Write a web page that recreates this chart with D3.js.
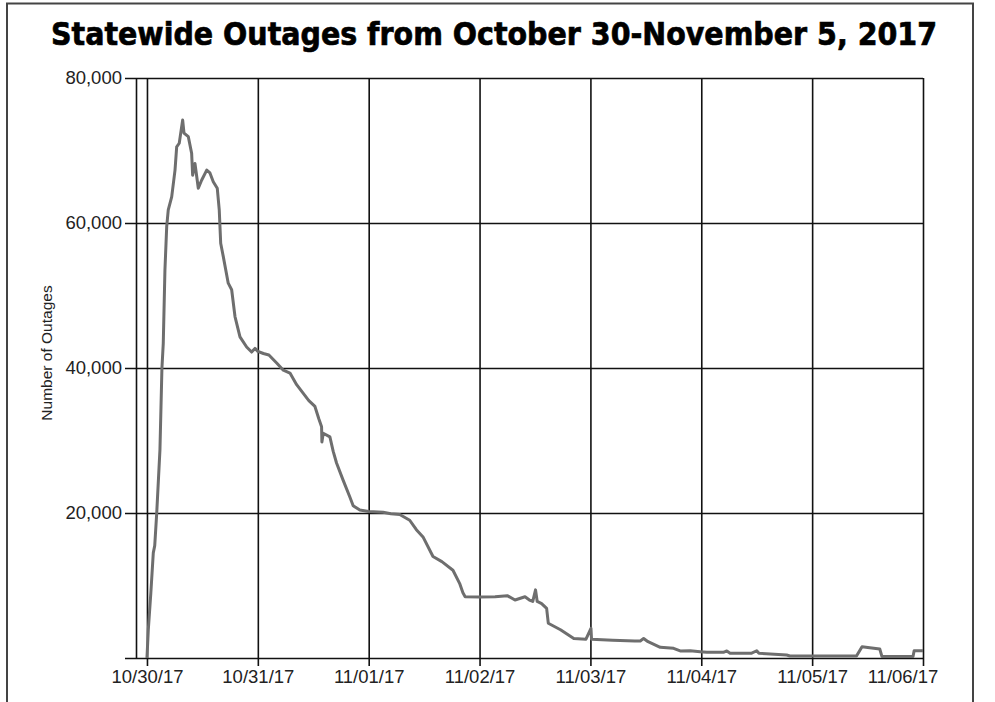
<!DOCTYPE html>
<html><head><meta charset="utf-8">
<script src="https://cdn.jsdelivr.net/npm/d3@7"></script>
<style>
body{margin:0;background:#fff;}
svg{display:block;}
</style></head>
<body><svg id="c" width="995" height="702"></svg>
<script>
const titleText = "Statewide Outages from October 30-November 5, 2017";
const yLabel = "Number of Outages";
const yTicks = [0, 20000, 40000, 60000, 80000];
// time in days after 10/30/17 00:00 (rows of 10, aligned with outages)
const dayOffsets = [
  0.000,0.012,0.035,0.057,0.070,0.088,0.117,0.135,0.147,0.162,
  0.178,0.192,0.223,0.253,0.268,0.291,0.322,0.334,0.373,0.403,
  0.412,0.433,0.463,0.493,0.539,0.568,0.598,0.634,0.652,0.665,
  0.688,0.733,0.764,0.794,0.839,0.899,0.944,0.974,
  1.000,1.050,1.100,1.170,1.230,1.290,1.350,1.410,1.460,1.515,
  1.550,1.575,1.578,1.590,1.650,1.680,1.710,1.770,1.830,1.860,
  1.920,2.000,2.130,2.200,2.280,2.370,2.430,2.490,2.580,2.660,
  2.760,2.820,2.850,2.870,3.000,3.140,3.250,3.320,3.410,3.450,
  3.480,3.505,3.520,3.560,3.605,3.620,3.730,3.850,3.960,4.005,
  4.010,4.200,4.400,4.450,4.480,4.520,4.630,4.750,4.810,4.900,
  4.990,5.050,5.200,5.230,5.260,5.450,5.500,5.520,5.770,5.800,
  6.400,6.450,6.520,6.610,6.630,6.910,6.920,7.000];
const outages = [
  0,3900,9000,14500,15500,20000,28700,40000,43400,53500,
  59500,61800,63600,67300,70500,71000,74200,72400,71900,69600,
  66600,68200,64800,65900,67300,66900,65700,64800,61800,57200,
  55400,51700,50800,47100,44300,42900,42200,42700,
  42300,42000,41800,40700,39700,39300,37700,36500,35500,34700,
  33000,31900,29800,31000,30500,28500,26900,24500,22200,21000,
  20400,20200,20100,19900,19800,19000,17700,16700,14000,13300,
  12100,10300,9000,8450,8400,8450,8600,8000,8450,8000,
  7800,9400,7800,7500,6850,4800,3900,2700,2600,4100,
  2600,2450,2350,2350,2700,2250,1470,1340,970,1000,
  870,790,790,970,650,650,1000,650,410,280,
  280,1560,1420,1240,200,200,1000,1000];

const svg = d3.select("#c");
const x0 = 136.5, x1 = 923, yTop = 78, yBot = 658;
const x = d3.scaleUtc()
  .domain([new Date(Date.UTC(2017,9,29,21,44)), new Date(Date.UTC(2017,10,6))])
  .range([x0, x1]);
const y = d3.scaleLinear().domain([0, 80000]).range([yBot, yTop]);
const base = Date.UTC(2017,9,30);
const n = Math.min(dayOffsets.length, outages.length);
const data = d3.range(n).map(i=>({t:new Date(base + dayOffsets[i]*86400000), v:outages[i]}));

// outer frame
svg.append("rect").attr("x",7).attr("y",3.5).attr("width",966).attr("height",720)
  .attr("fill","none").attr("stroke","#444").attr("stroke-width",2);

// title
svg.append("text").attr("transform","translate(494,45) scale(1,1.15)").attr("text-anchor","middle")
  .attr("font-family","'DejaVu Sans', 'Liberation Sans', Arial, sans-serif")
  .attr("font-weight",700).attr("font-size",27).attr("fill","#000")
  .attr("stroke","#000").attr("stroke-width",0.6)
  .attr("textLength",886).attr("lengthAdjust","spacingAndGlyphs")
  .text(titleText);

const dayTicks = d3.utcDay.range(new Date(Date.UTC(2017,9,30)), new Date(Date.UTC(2017,10,6,1)));
const fmt = d3.utcFormat("%m/%d/%y");

// vertical grid + x ticks
const gx = svg.append("g").attr("transform",`translate(0,${yBot})`)
  .call(d3.axisBottom(x).tickValues(dayTicks).tickFormat(fmt)
        .tickSizeInner(-(yBot-yTop)).tickSizeOuter(0).tickPadding(10));
gx.select(".domain").remove();
gx.selectAll(".tick line").attr("y2",8).attr("y1",-(yBot-yTop))
  .attr("stroke","#111").attr("stroke-width",1.6);
gx.selectAll(".tick text").attr("font-family","'Liberation Sans', Arial, sans-serif")
  .attr("font-size",18.5).attr("fill","#222").attr("y",12)
  .attr("dx",(d,i,nn)=> i===nn.length-1 ? -20.5 : 0);

// horizontal grid + y ticks
const gy = svg.append("g").attr("transform",`translate(${x0},0)`)
  .call(d3.axisLeft(y).tickValues(yTicks).tickFormat(d3.format(",")).tickSizeOuter(0).tickPadding(4));
gy.select(".domain").remove();
gy.selectAll(".tick line").attr("x1",-11.5).attr("x2",x1-x0)
  .attr("stroke","#111").attr("stroke-width",1.6);
gy.selectAll(".tick text").attr("font-family","'Liberation Sans', Arial, sans-serif")
  .attr("font-size",18.5).attr("fill","#222").attr("x",-14.5).text(d=> d===0 ? "" : d3.format(",")(d));

// y axis line
svg.append("line").attr("x1",x0).attr("x2",x0).attr("y1",yTop).attr("y2",yBot)
  .attr("stroke","#111").attr("stroke-width",1.6);

// y label
svg.append("text").attr("transform","translate(52,353) rotate(-90)")
  .attr("text-anchor","middle").attr("font-family","'Liberation Sans', Arial, sans-serif")
  .attr("font-size",15.5).attr("fill","#222").text(yLabel);

// data line
svg.append("path").datum(data)
  .attr("fill","none").attr("stroke","#6e6e6e").attr("stroke-width",3)
  .attr("stroke-linejoin","round")
  .attr("d", d3.line().x(d=>x(d.t)).y(d=>y(d.v)));
</script>
</body></html>
